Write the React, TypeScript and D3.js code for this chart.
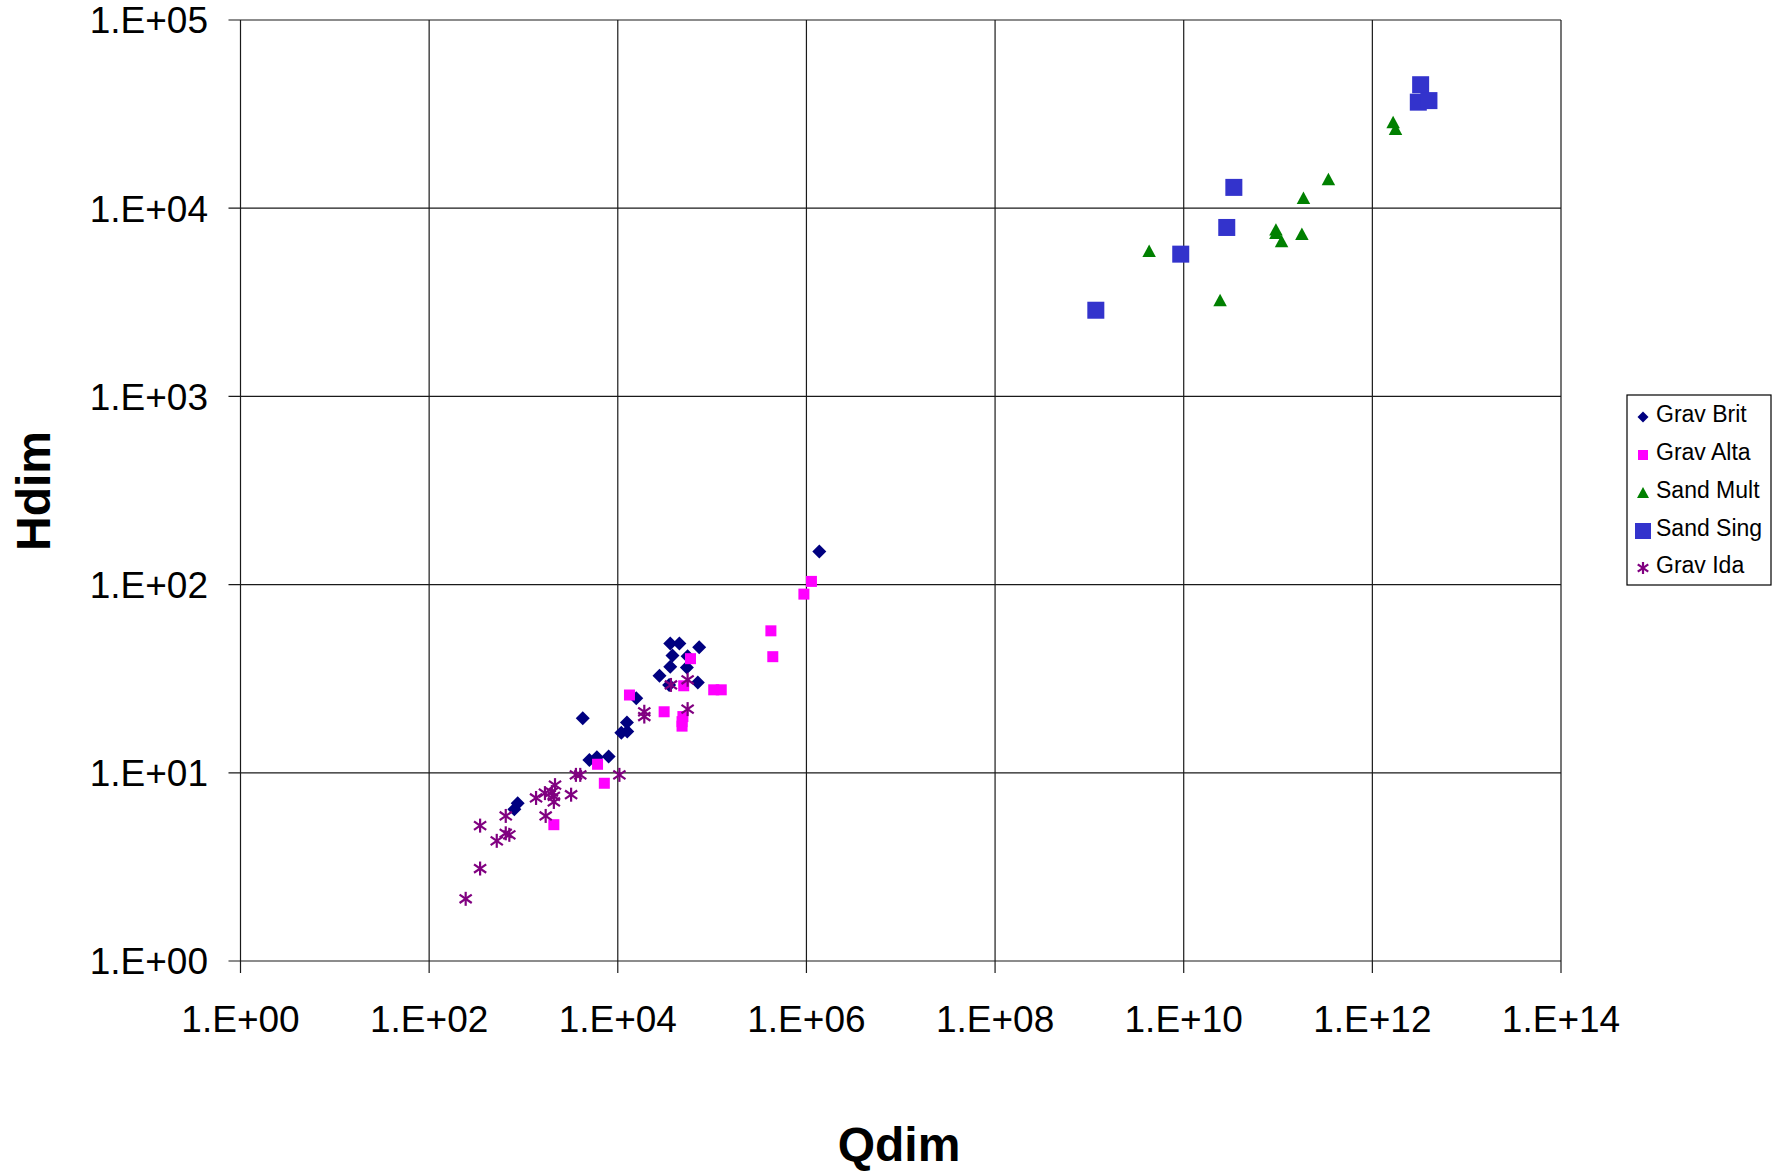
import React from "react";
import * as d3 from "d3";

const WIDTH = 1783;
const HEIGHT = 1171;
const PLOT = { left: 240.5, right: 1561, top: 20, bottom: 961 };
const FONT = "'Liberation Sans', Arial, sans-serif";

const xTicks = [1e0, 1e2, 1e4, 1e6, 1e8, 1e10, 1e12, 1e14];
const yTicks = [1e0, 1e1, 1e2, 1e3, 1e4, 1e5];

// Grav Brit
const gravBritQ = [3.6e4, 4.5e4, 7.3e4, 3.8e4, 5.5e4, 3.6e4, 5.4e4, 2.77e4, 3.5e4, 7.05e4, 1.57e4, 4.25e3, 1.25e4, 1.09e4, 1.26e4, 5.0e3, 6.0e3, 8.0e3, 869, 801, 1.37e6];
const gravBritH = [48.7, 48.7, 46.5, 42, 41.6, 36.6, 36.3, 32.8, 29.3, 30.2, 24.9, 19.5, 18.5, 16.3, 16.6, 11.7, 12.1, 12.2, 6.9, 6.4, 150];
// Grav Alta
const gravAltaQ = [5.9e4, 5.0e4, 1.04e5, 1.25e5, 1.33e4, 3.1e4, 4.9e4, 4.8e4, 4.8e4, 6.1e3, 7.2e3, 2.1e3, 4.2e5, 4.4e5, 9.4e5, 1.13e6];
const gravAltaH = [40.4, 29, 27.6, 27.6, 25.9, 21.1, 19.9, 18.7, 17.7, 11.1, 8.8, 5.3, 56.8, 41.4, 89, 104];
// Sand Mult
const sandMultQ = [3.42e11, 1.86e11, 9.5e10, 9.5e10, 1.09e11, 1.79e11, 4.3e9, 2.43e10, 1.66e12, 1.76e12];
const sandMultH = [1.42e4, 1.13e4, 7670, 7360, 6650, 7280, 5900, 3230, 2.85e4, 2.63e4];
// Sand Sing
const sandSingQ = [3.4e10, 2.86e10, 9.3e9, 1.17e9, 3.25e12, 3.07e12, 3.98e12];
const sandSingH = [1.29e4, 7900, 5700, 2870, 4.53e4, 3.66e4, 3.73e4];
// Grav Ida
const gravIdaQ = [1.91e4, 1.91e4, 3.66e4, 5.5e4, 5.5e4, 1.04e4, 3.6e3, 4.0e3, 2.16e3, 1.69e3, 2.0e3, 2.1e3, 2.1e3, 1.36e3, 3.2e3, 1.72e3, 649, 347, 649, 708, 521, 347, 244];
const gravIdaH = [21.1, 19.9, 29.3, 31.2, 21.8, 9.75, 9.75, 9.75, 8.6, 7.8, 7.9, 7.5, 7.0, 7.35, 7.65, 5.9, 5.9, 5.24, 4.77, 4.68, 4.35, 3.1, 2.14];

const seriesNames = ["Grav Brit", "Grav Alta", "Sand Mult", "Sand Sing", "Grav Ida"];

type Shape = "diamond" | "square" | "triangle" | "bigsquare" | "star";

const series = [
  { name: seriesNames[0], q: gravBritQ, h: gravBritH, shape: "diamond" as Shape, color: "#000080", size: 14, legSize: 11 },
  { name: seriesNames[1], q: gravAltaQ, h: gravAltaH, shape: "square" as Shape, color: "#FF00FF", size: 11, legSize: 10 },
  { name: seriesNames[2], q: sandMultQ, h: sandMultH, shape: "triangle" as Shape, color: "#008000", size: 13.5, legSize: 12 },
  { name: seriesNames[3], q: sandSingQ, h: sandSingH, shape: "bigsquare" as Shape, color: "#3333CC", size: 17, legSize: 16 },
  { name: seriesNames[4], q: gravIdaQ, h: gravIdaH, shape: "star" as Shape, color: "#800080", size: 14, legSize: 12 },
];

const fmt = (v: number) => {
  const e = Math.round(Math.log10(v));
  return `1.E${e < 0 ? "-" : "+"}${String(Math.abs(e)).padStart(2, "0")}`;
};

function Marker({ shape, x, y, s, color }: { shape: Shape; x: number; y: number; s: number; color: string }) {
  const h = s / 2;
  if (shape === "diamond") {
    return <path d={`M${x},${y - h}L${x + h},${y}L${x},${y + h}L${x - h},${y}Z`} fill={color} />;
  }
  if (shape === "square" || shape === "bigsquare") {
    return <rect x={x - h} y={y - h} width={s} height={s} fill={color} />;
  }
  if (shape === "triangle") {
    return <path d={`M${x},${y - h}L${x + h},${y + h * 0.85}L${x - h},${y + h * 0.85}Z`} fill={color} />;
  }
  const dx = h * 0.87;
  const dy = h * 0.6;
  return (
    <g stroke={color} strokeWidth={2.2}>
      <line x1={x} y1={y - h} x2={x} y2={y + h} />
      <line x1={x - dx} y1={y - dy} x2={x + dx} y2={y + dy} />
      <line x1={x - dx} y1={y + dy} x2={x + dx} y2={y - dy} />
    </g>
  );
}

export default function App() {
  const xScale = d3.scaleLog().domain([1, 1e14]).range([PLOT.left, PLOT.right]);
  const yScale = d3.scaleLog().domain([1, 1e5]).range([PLOT.bottom, PLOT.top]);

  const legend = { x: 1627, y: 395, w: 144, h: 190, rowY: [414, 452, 490, 528, 565] };

  return (
    <svg width={WIDTH} height={HEIGHT} style={{ position: "absolute", left: 0, top: 0, background: "#fff" }} fontFamily={FONT}>
      <rect width={WIDTH} height={HEIGHT} fill="#fff" />
      {/* grid */}
      {xTicks.map((t) => (
        <line key={`gx${t}`} x1={xScale(t)} x2={xScale(t)} y1={PLOT.top} y2={PLOT.bottom + 12} stroke="#1a1a1a" strokeWidth={1.2} />
      ))}
      {yTicks.map((t) => (
        <line key={`gy${t}`} x1={PLOT.left - 12} x2={PLOT.right} y1={yScale(t)} y2={yScale(t)} stroke="#1a1a1a" strokeWidth={1.2} />
      ))}
      {/* tick labels */}
      {yTicks.map((t) => (
        <text key={`ly${t}`} x={208} y={yScale(t)} dy="0.36em" textAnchor="end" fontSize={37} fill="#000">
          {fmt(t)}
        </text>
      ))}
      {xTicks.map((t) => (
        <text key={`lx${t}`} x={xScale(t)} y={1032} textAnchor="middle" fontSize={37} fill="#000">
          {fmt(t)}
        </text>
      ))}
      {/* axis titles */}
      <text x={899} y={1161} textAnchor="middle" fontSize={48} fontWeight="bold">
        Qdim
      </text>
      <text transform="translate(50,491) rotate(-90)" textAnchor="middle" fontSize={48} fontWeight="bold">
        Hdim
      </text>
      {/* points */}
      {series.map((s) => (
        <g key={s.name}>
          {s.q.map((q, i) => (
            <Marker key={i} shape={s.shape} x={xScale(q)} y={yScale(s.h[i])} s={s.size} color={s.color} />
          ))}
        </g>
      ))}
      {/* legend */}
      <rect x={legend.x} y={legend.y} width={legend.w} height={legend.h} fill="#fff" stroke="#000" strokeWidth={1.2} />
      {series.map((s, i) => (
        <g key={`leg${s.name}`}>
          <Marker shape={s.shape} x={1643} y={legend.rowY[i] + 3} s={s.legSize} color={s.color} />
          <text x={1656} y={legend.rowY[i]} dy="0.36em" fontSize={23} fill="#000">
            {s.name}
          </text>
        </g>
      ))}
    </svg>
  );
}
